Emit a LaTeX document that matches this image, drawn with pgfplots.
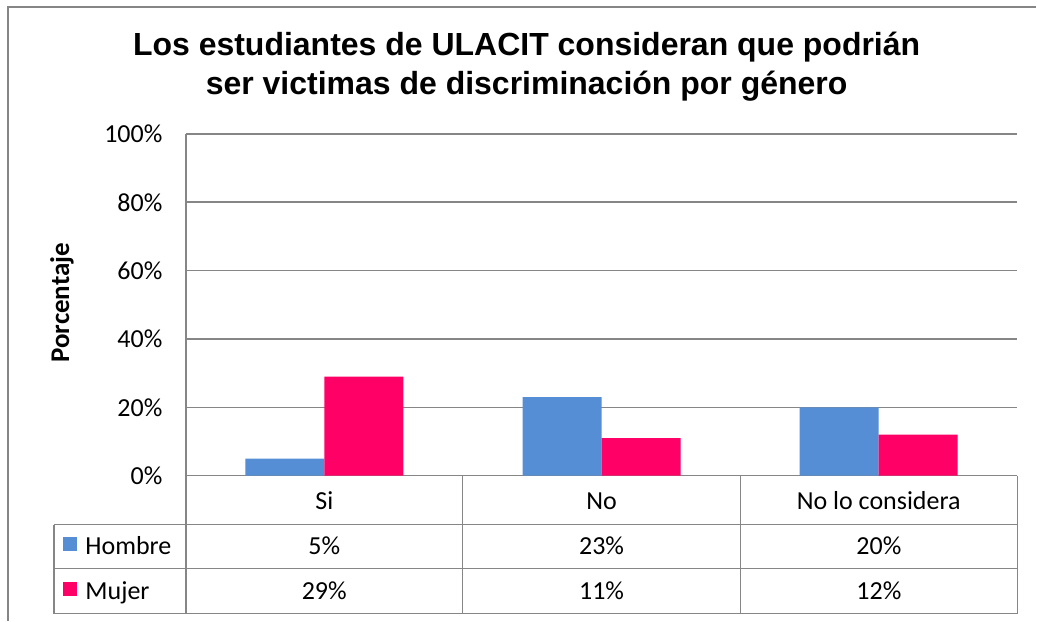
\documentclass[border=0pt]{standalone}
\usepackage{fontspec}
\setmainfont{Carlito}
\newfontfamily\arialfont{Liberation Sans}
\usepackage{pgfplots}
\pgfplotsset{compat=1.18}
\definecolor{hombre}{HTML}{558ED5}
\definecolor{mujer}{HTML}{FF0066}
\definecolor{regla}{HTML}{868686}

\begin{document}
\begin{tikzpicture}[x=1bp,y=1bp]
\path (0,0) rectangle (1037,621);
% marco del grafico
\draw[regla, line width=1.5bp] (8,0) -- (8,614) -- (1037,614);
% titulo
\node[font=\arialfont\bfseries\fontsize{32bp}{39bp}\selectfont, align=center] at (527,554)
  {Los estudiantes de ULACIT consideran que podrián\\ser victimas de discriminación por género};
% titulo del eje y
\node[rotate=90, font=\bfseries\fontsize{27bp}{32bp}\selectfont] at (62,318) {Porcentaje};
\begin{axis}[
  at={(186bp,145bp)}, anchor=south west,
  scale only axis, width=832bp, height=342bp,
  ybar=0pt, bar width=0.285,
  xmin=-0.5, xmax=2.5, ymin=0, ymax=100,
  xtick={0,1,2}, xticklabels={Si,No,No lo considera},
  ytick={0,20,...,100},
  yticklabel={\pgfmathprintnumber{\tick}\%},
  /pgf/number format/assume math mode=true,
  axis x line=bottom, axis y line=left,
  axis line style={regla, line width=1.5bp, -},
  ymajorgrids, grid style={regla, line width=1.5bp},
  major tick length=0pt,
  tick label style={font=\fontsize{26bp}{31bp}\selectfont},
  yticklabel style={anchor=east, xshift=-20bp},
  xticklabel style={anchor=base, yshift=-34bp},
  clip=false,
]
\addplot[fill=hombre, draw=none] coordinates {(0,5) (1,23) (2,20)};
\addplot[fill=mujer, draw=none] coordinates {(0,29) (1,11) (2,12)};
\end{axis}
% tabla de datos
\draw[regla, line width=1.5bp]
  (54,96) -- (1018,96)
  (54,52) -- (1018,52)
  (54,7) -- (1018,7)
  (54,96) -- (54,7)
  (186,145) -- (186,7)
  (463,145) -- (463,7)
  (741,145) -- (741,7)
  (1018,145) -- (1018,7);
\fill[hombre] (63,70) rectangle (77,84);
\fill[mujer] (63,25) rectangle (77,39);
\begin{scope}[every node/.style={font=\fontsize{26bp}{31bp}\selectfont, anchor=base}]
\node[anchor=base west] at (82,66) {Hombre};
\node[anchor=base west] at (82,21) {Mujer};
\node at (324.5,66) {5\%};
\node at (602,66) {23\%};
\node at (879.5,66) {20\%};
\node at (324.5,21) {29\%};
\node at (602,21) {11\%};
\node at (879.5,21) {12\%};
\end{scope}
\end{tikzpicture}
\end{document}
